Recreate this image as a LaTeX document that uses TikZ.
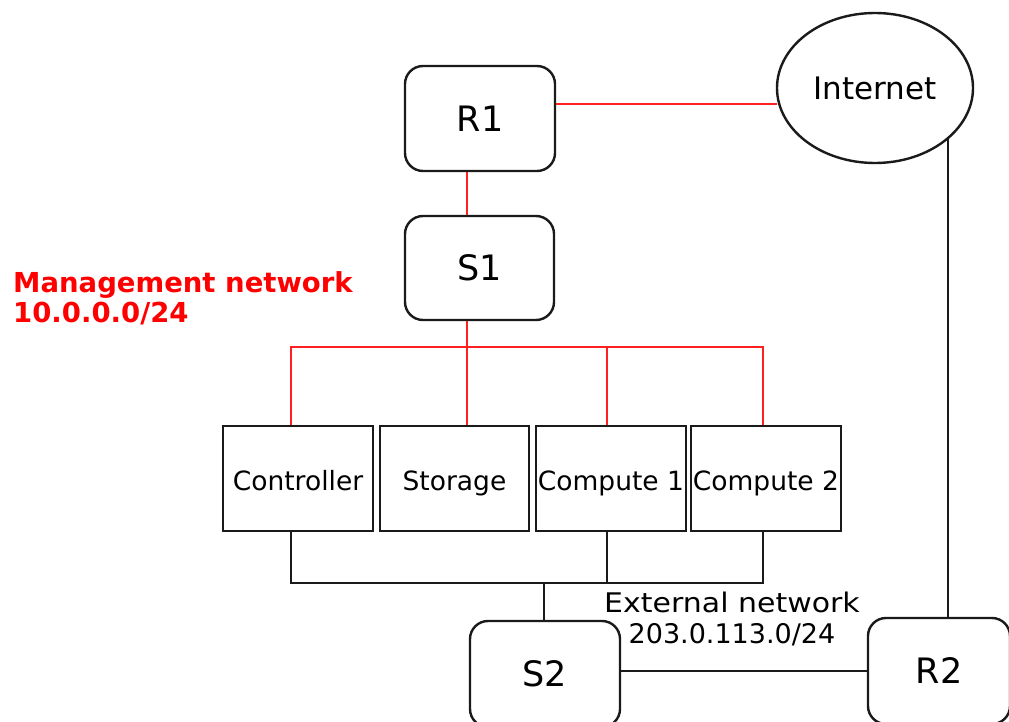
\documentclass[tikz,border=0pt]{standalone}
\usepackage{fontspec}
\setmainfont{DejaVu Sans}
\usetikzlibrary{shapes.geometric}
\definecolor{mgmtred}{HTML}{FF2020}
\definecolor{edge}{HTML}{1A1A1A}
\tikzset{
  dev/.style={draw=edge, line width=2.4pt, rounded corners=18pt, minimum width=150pt, minimum height=105pt, inner sep=0pt, font=\fontsize{35}{40}\selectfont},
  host/.style={draw=edge, line width=2.4pt, minimum width=150pt, minimum height=105pt, inner sep=0pt, text height=28pt, text depth=5pt, font=\fontsize{26.5}{30}\selectfont},
  cloud/.style={ellipse, draw=edge, line width=2.4pt, minimum width=196pt, minimum height=150pt, inner sep=0pt, font=\fontsize{31}{36}\selectfont},
  mgmt/.style={draw=mgmtred, line width=1.7pt},
  ext/.style={draw=edge, line width=1.7pt},
}
\begin{document}
\begin{tikzpicture}[x=1pt,y=-1pt]
\clip (0,0) rectangle (1009,722);
\useasboundingbox (0,0) rectangle (1009,722);

\node[dev] (R1) at (480,118.5) {R1};
\node[dev, minimum width=149pt, minimum height=104pt] (S1) at (479.5,268) {S1};
\node[cloud] (I) at (875,88) {Internet};
\node[host] (C) at (298,478.5) {Controller};
\node[host, minimum width=149pt] (St) at (454.5,478.5) {Storage};
\node[host] (C1) at (611,478.5) {Compute 1};
\node[host] (C2) at (766,478.5) {Compute 2};
\node[dev, minimum height=106pt] (S2) at (545,674) {S2};
\node[dev, minimum width=142pt, minimum height=106pt] (R2) at (939,671) {R2};

\node[anchor=base west, text=red, inner sep=0pt, font=\fontsize{27.5}{30}\selectfont\bfseries] (mn) at (13,292)
  {\begin{tabular}[t]{@{}l@{}}Management network\\10.0.0.0/24\end{tabular}};
\node[anchor=base, inner sep=0pt, font=\fontsize{27}{31}\selectfont] (en) at (732,612)
  {\begin{tabular}[t]{@{}c@{}}\scalebox{1.11}[1]{External network}\\203.0.113.0/24\end{tabular}};

\coordinate (mR) at (763,347);
\coordinate (eR) at (763,583);

% management (red)
\draw[mgmt] ([yshift=14.5pt]R1.east) -- ([yshift=14.5pt]R1.east -| I.west) -- +(1.5,0);
\draw[mgmt] ([xshift=-13pt]R1.south) -- ([xshift=-12.5pt]S1.north);
\draw[mgmt] ([xshift=-12.5pt]S1.south) -- ([xshift=12.5pt]St.north);
\draw[mgmt] ([xshift=-7pt]C.north) |- (mR) -- ([xshift=-3pt]C2.north);
\draw[mgmt] ([xshift=-4pt]C1.north) -- ([xshift=-4pt]C1.north |- mR);

% external (black)
\draw[ext] ([xshift=-7pt]C.south) |- (eR) -- ([xshift=-3pt]C2.south);
\draw[ext] ([xshift=-4pt]C1.south) -- ([xshift=-4pt]C1.south |- eR);
\draw[ext] ([xshift=-1pt]S2.north) -- ([xshift=-1pt]S2.north |- eR);
\draw[ext] (S2.east |- R2.west) -- (R2.west);
\draw[ext] (I.325.6) -- (I.325.6 |- R2.north);
\end{tikzpicture}
\end{document}
